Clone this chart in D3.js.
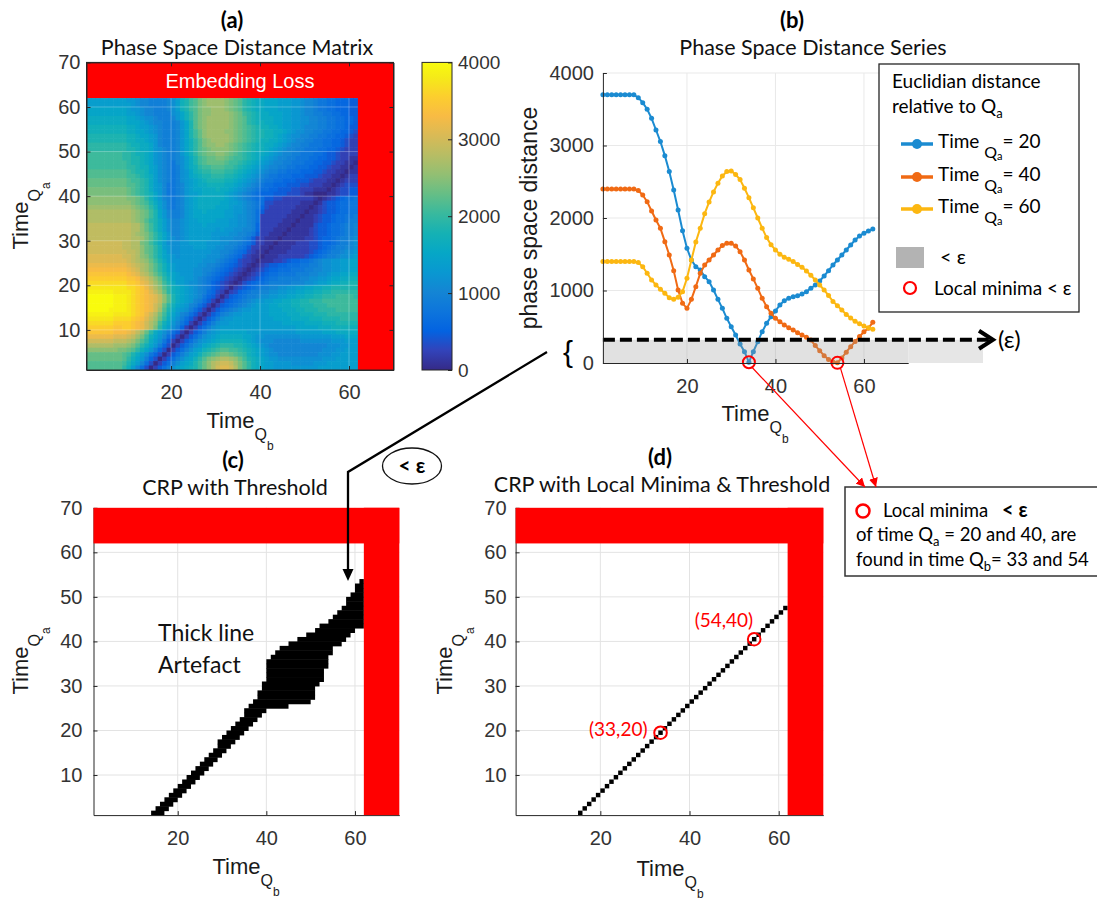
<!DOCTYPE html>
<html>
<head>
<meta charset="utf-8">
<title>Phase space distance and CRP</title>
<script src="https://cdn.jsdelivr.net/npm/d3@7"></script>
<style>
  body { margin: 0; background: #fff; }
  svg { display: block; }
</style>
</head>
<body>
<div id="fig"></div>
<script>
// (a) distance matrix, (b) three rows of it, (c) thresholded CRP, (d) local minima CRP

// ---------- data ----------
const timeQb = d3.range(1, 63)   // Q_b time index of the series in (b)

const distQa20 = [3700,3700,3700,3700,3700,3700,3700,3700,3660,3591,3499,3375,3214,3054,2860,2640,2386,2110,1825,1582,
  1421,1329,1283,1191,1122,1007,878,754,616,501,386,262,156,10,156,294,432,547,639,717,
  800,860,892,915,929,952,984,1030,1076,1131,1200,1274,1352,1421,1490,1559,1628,1697,1752,1790,1820,1848]
const distQa40 = [2400,2400,2400,2400,2400,2400,2400,2400,2380,2317,2225,2097,1972,1857,1674,1490,1274,1007,823,754,
  878,1053,1237,1352,1421,1490,1559,1619,1651,1651,1614,1536,1421,1283,1160,1030,892,777,685,616,
  570,524,487,455,418,386,354,317,240,170,100,50,15,2,70,150,225,295,365,430,480,561]
const distQa60 = [1400,1400,1400,1400,1400,1400,1400,1400,1385,1329,1237,1145,1076,1016,961,901,878,906,984,1168,
  1420,1670,1860,2060,2220,2360,2480,2580,2640,2650,2600,2530,2410,2280,2140,2000,1860,1730,1630,1560,
  1500,1460,1430,1400,1360,1320,1270,1210,1145,1076,1007,930,850,790,730,670,620,575,540,510,485,465]
const seriesNames = ["20", "40", "60"]
const seriesColors = ["#1b8bd1", "#f06a14", "#fcb711"]
const epsilon = 320
const minimaQb = [34, 54]
const minimaDist = [10, 2]

const distTicks = [0, 1000, 2000, 3000, 4000]
const timeTicksX = [20, 40, 60]
const timeTicksY = [10, 20, 30, 40, 50, 60, 70]
const validEnd = 62     // embedding loss starts here

// (a) matrix, one string per Q_a row from 61 (top) down to 1, one char per Q_b cell 1..61
// char is a base-36 level, level 35 = 4000
const heatRows = [
  "cccccccc cbba9988889a cfgijlmnnn nmlkjhgfee dddcccbba9 98776655544",
  "cccccccc ccba9988889a cfgijlmnnn nmlkjhgfee dddcccbba9 98776655544",
  "dddddddd dcbba998889a cfgijlmmnn nmlkjhgfee dddcccbba9 98776655544",
  "dddddddd dccba998888a bdfhjlmmnn nnmlkihgfe edddccbba9 98877665544",
  "eeeeeeee eddcbaa98889 bdfhjlmnnn nnmlkjhgfe eeddccbbaa 99887766554",
  "eeeeeeee edddcba99888 9bdgjlmnnn nnmlkjhgff eeddccbbaa 99887766554",
  "ffffffff feedccba9888 9bdgjlmnnn nnmlkjihgf feedccbba9 99887766544",
  "ffffffff feeddcba9888 9bdgikmnnn nmmlkjihgg ffeedcbaa9 98877665543",
  "gggggggg gffeddcb9888 9bdgikmnnn nnmlkjihgg ffedcbaa99 88776655432",
  "gggggggg gffeedcb9888 9bdfhjlmnn nnmlkjihgf feedcba998 87766554322",
  "hhhhhhhh hgffeedb9888 9bdfhjlmmn nmlkjihgff eedcba9988 77766554322",
  "hhhhhhhh hggfeedba988 9bdfhjklmm mmlkjihgff edcba99887 77665543222",
  "iiiiiiii hhgffedba988 9bdfhjkllm mlkjihgfee dcba998877 76654432222",
  "iiiiiiii hhggfedba988 9acegijkkl lkjiihgfed cba9988777 66554432211",
  "iiiiiiii ihggfedba987 9acegijkkk kjiihgfedc ba99887776 65544322110",
  "iiiiiiii ihhgffdca987 8acefhiijj jiihgfedcb a998877666 55443221101",
  "jjjjjjjj jihggfdca987 8abdfghhii ihhgfedcba 9887766655 54432211011",
  "jjjjjjjj jiihgfeca987 8abdefgghh hggfedcba9 8776665554 44322110122",
  "kkkkkkkk kjiihgeca987 8abcdefggg gffedcba98 7766555444 32221101222",
  "kkkkkkkk kjjihgecb977 89bcdeefff feedcba987 6655544433 22211012333",
  "llllllll lkjihgecb977 89bcddeeef eedcba9876 6554443322 21110123344",
  "llllllll lkjihgfdb977 89bccdeeee edcba98765 5544433321 10001123344",
  "mmmmmmmm mllkjhfdb987 89bcdeeeee edcba98766 4433222222 21012345667",
  "mmmmmmmm mmlkjigeca87 89bcdeeeee ddccba9876 3322222211 10134456677",
  "nnnnnnnn nnmlkjhfca87 89bcdeeeed ddcbba9875 3222222111 01234456677",
  "oooooooo oonmlkigdb98 89bcddeddd dccbba9864 2222221110 11234456677",
  "oooooooo oonmlkigdb98 89bcdddddd dccbaa9862 2222211101 12344566778",
  "oooooooo oonmljhgeca9 9abccddddc ccbbaa9862 2222111011 12344566788",
  "pppppppp ppoomkigeca9 9abcccdccc ccbbaa9852 2221110111 13445667889",
  "pppppppp ppoomkigeca9 9abccccccb cbbaa99852 2211101111 23445667889",
  "pppppppp pponmljhfdb9 9abcccccbb bbaa998742 2111011111 23445667889",
  "pppppppp ppoonljhfdba 9abcccccbb aaa9987422 1110111112 2345567889a",
  "qqqqqqqq ppoolkigecaa abbccccbbb aa99876422 1101111222 3345567889a",
  "qqqqqqqq ppoomkjhfcba abbbcccbba a998764221 1011112222 3345678899a",
  "qqqqqqqq qppomkjhfdba abbbbbbbaa 9987653211 0111122222 34567889aab",
  "rrrrrrrr qqpomljhfdcb abbbbbbaaa 9876532110 1112222223 4567889aabc",
  "rrrrrrrr rqponmkigecb bbbbbbaaa9 8765322101 1122345566 789aabbccdd",
  "ssssssss srqponljhfdc bbbbbaa998 7654321012 3445566677 889aabbccdd",
  "tttttttt tsrqonljhfdc bbbbaa9987 6543210123 4556667778 899aabbccdd",
  "uuuuuuuu utsrpomkiged cbbbaa9876 5432101234 5667777888 99aabccddee",
  "vvvvvvvv vuutrqomkhfd ccbba98765 4321012345 6778888899 aabbcddeeff",
  "wwwwwwww wvvusrpnlige ccbaa98754 3210134566 788888999a abccdeeffgg",
  "xxxxxxxx xwwvusqomjhf edcba98754 3202345678 899aabbccd deeffgggggg",
  "yyyyyyxx xxwvutrpnkhf edcba98653 2023567889 9aabbccdde effgghhhhhh",
  "zzzzzzyy yxwvutsrpmjg edcba97542 024567889a abbccddeef fgghhhiiiih",
  "zzzzzzyy yxwvutsrpmjg edcb986420 2456789abb ccddeeffgg hhhiiiiiiii",
  "zzzzzzyy yxwvutsqokhf dcb9864202 456789abcc cddeeeffgg ghhhiiiiiii",
  "zzzzzyyy yxwvutsqnjge cba8642024 6789abbccc cdddeeeffg gghhhhiiiii",
  "yyyyyyxx xxwvusqolifd b986420246 89abbccccc cddddeeeff fggghhhhhhh",
  "xxxxxxww wwvutrpnkhec a864202468 abbccccccc ccddddeeee fffgggghhhh",
  "wwwwwwvv vvutsqomifdb 975202468a bbcccccccc ccccddddde eeefffggggg",
  "vvvvvvuu vvutsqolheca 85202468ab cccccccccc cccccccddd ddeeeffffff",
  "uuuuuutt tsrpnkheca86 4202468abc ddddddcccb bbbbbbbccc cccdddeeeee",
  "ssssssrr rqpnlifdb964 202468abcd eeeeeddcbb aaaaaaaabb bbbbbcccddd",
  "qqqqqqpp ponljheca742 02468abcde fffffedcba aa999999aa aaaaabbbccc",
  "oooooonn nmljhfdb8530 2468abdefg hhhggfedcb a999999999 9999aaabbcc",
  "mmmmmmml lkjhfdb85302 468acdfghi jjiihgfedc ba99999999 999aaabbccc",
  "kkkkkkkk jigeca753024 68acdfhijk llkjihfedc baa9999999 99aaabbcccc",
  "kkkkkkkk jhfdb8530246 8acdfhjlmn oonmkigfed cbbaaaaaaa aaabbbccccc",
  "jjjjjjjj igec96302468 acdegikmop qqpnljhfed ccbbbbaaaa abbbccccccc",
  "jjjjjjjj hfc96302468a cdefgikmoq rrqoljhfed ccbbbbbbbb bbccccccccc"
]

// (c) cells below epsilon, per Q_a row 1..53: first Q_b cell and end (exclusive)
const threshLo = [14,15,16,17,18,19,20,21,22,23,24,25,26,27,28,29,29,30,31,32,33,34,35,35,36,37,38,38,39,39,
  40,40,40,40,40,41,42,43,45,47,49,51,52,54,55,56,57,58,58,59,60,60,61]
const threshHi = [17,18,19,20,21,22,23,24,25,26,27,28,29,30,31,32,33,34,35,36,37,38,39,40,45,50,51,51,51,52,
  53,53,53,54,54,54,55,55,57,58,59,60,62,62,62,62,62,62,62,62,62,62,62]

// (d) Q_b cell of the local minimum in each Q_a row 1..47
const minimaRowQb = [15,16,17,18,19,20,21,22,23,24,25,26,27,28,29,30,31,32,33,34,35,36,37,38,39,40,41,42,43,44,
  45,46,47,48,49,50,51,52,53,54,55,56,57,58,59,60,61]
const circledCells = [[33, 19], [54, 40]]
const circledLabels = ["(33,20)", "(54,40)"]

// parula colormap samples (index out of 63)
const parulaIdx = [0,4,8,12,16,20,24,28,32,36,40,44,48,52,56,60,63]
const parulaHex = ["#352a87","#3243ba","#0363e1","#0d75dc","#1485d4","#0998d1","#06a7c6","#15b1b4","#38b99e",
  "#65be86","#92bf73","#b7bd64","#d9ba56","#f8bb44","#fcce2e","#f5eb18","#f9fb0e"]

// ---------- setup ----------
const SANS = "'Liberation Sans', Arial, Helvetica, sans-serif"
const CAL = "Lato, 'Open Sans', sans-serif"
const INK = "#262626"

const svg = d3.select("#fig").append("svg").attr("width", 1097).attr("height", 900)
const defs = svg.append("defs")

let color = d3.scaleLinear()
  .domain(parulaIdx.map(i => i / 63 * 4000))
  .range(parulaHex)
  .clamp(true)
const plain = d3.format("d")

function styleAxis(g, size) {
  g.attr("font-family", SANS).attr("font-size", size || 20).attr("color", INK)
  g.selectAll("text").attr("fill", "#333")
}

function timeLabel(x, y, sub, rotated) {
  let t = svg.append("text")
    .attr("transform", rotated ? `translate(${x},${y}) rotate(-90)` : `translate(${x},${y})`)
    .attr("text-anchor", "middle").attr("font-family", SANS).attr("fill", "#1a1a1a")
  t.append("tspan").attr("font-size", 22).text("Time")
  t.append("tspan").attr("font-size", 16).attr("dy", 12).text("Q")
  t.append("tspan").attr("font-size", 12).attr("dy", 10).text(sub)
}

function title(x, y1, y2, tag, text) {
  svg.append("text").attr("x", x[0]).attr("y", y1).attr("text-anchor", "middle")
    .attr("font-family", CAL).attr("font-weight", "bold").attr("font-size", 22).text(tag)
  svg.append("text").attr("x", x[1]).attr("y", y2).attr("text-anchor", "middle")
    .attr("font-family", CAL).attr("font-size", 21.5).attr("fill", "#111").text(text)
}

function grid(g, xs, ys, stroke, opacity) {
  let [x0, x1] = xs.range(), [y0, y1] = ys.range()
  g.selectAll(".gx").data(timeTicksX).join("line")
    .attr("x1", d => xs(d)).attr("x2", d => xs(d)).attr("y1", y0).attr("y2", y1)
    .attr("stroke", stroke).attr("stroke-opacity", opacity)
  g.selectAll(".gy").data(timeTicksY.filter(d => d < 70)).join("line")
    .attr("x1", x0).attr("x2", x1).attr("y1", d => ys(d)).attr("y2", d => ys(d))
    .attr("stroke", stroke).attr("stroke-opacity", opacity)
}

function embeddingLoss(g, xs, ys) {
  g.append("rect").attr("x", xs(1)).attr("y", ys(70))
    .attr("width", xs(70) - xs(1)).attr("height", ys(validEnd) - ys(70)).attr("fill", "#ff0000")
  g.append("rect").attr("x", xs(validEnd)).attr("y", ys(70))
    .attr("width", xs(70) - xs(validEnd)).attr("height", ys(1) - ys(70)).attr("fill", "#ff0000")
}

function timeAxes(xs, ys, padX, padY) {
  svg.append("g").attr("transform", `translate(0,${ys(1)})`)
    .call(d3.axisBottom(xs).tickValues(timeTicksX).tickSize(-4).tickSizeOuter(0).tickPadding(padX))
    .call(styleAxis)
  svg.append("g").attr("transform", `translate(${xs(1)},0)`)
    .call(d3.axisLeft(ys).tickValues(timeTicksY).tickSize(-4).tickSizeOuter(0).tickPadding(padY))
    .call(styleAxis)
}

// ---------- (a) phase space distance matrix ----------
const xA = d3.scaleLinear().domain([1, 70]).range([86.5, 393.5])
const yA = d3.scaleLinear().domain([1, 70]).range([370, 62.4])

let cells = []
heatRows.forEach((row, i) => {
  let qa = 61 - i
  row.replace(/ /g, "").split("").forEach((ch, j) => {
    cells.push({qa: qa, qb: j + 1, v: parseInt(ch, 36) * 4000 / 35})
  })
})

let gA = svg.append("g")
gA.selectAll("rect.cell").data(cells).join("rect").attr("class", "cell")
  .attr("x", d => xA(d.qb)).attr("y", d => yA(d.qa + 1))
  .attr("width", xA(2) - xA(1) + 0.6).attr("height", yA(1) - yA(2) + 0.6)
  .attr("fill", d => color(d.v))
grid(gA, d3.scaleLinear().domain([1, 62]).range([xA(1), xA(62)]),
  d3.scaleLinear().domain([1, 62]).range([yA(1), yA(62)]), "#ffffff", 0.28)
embeddingLoss(gA, xA, yA)
gA.append("text").attr("x", (xA(1) + xA(70)) / 2).attr("y", 88).attr("text-anchor", "middle")
  .attr("font-family", SANS).attr("font-size", 20).attr("fill", "#fff").text("Embedding Loss")

timeAxes(xA, yA, 15, 6)
svg.append("g").attr("transform", `translate(0,${yA(70)})`)
  .call(d3.axisTop(xA).tickValues(timeTicksX).tickSize(-4).tickSizeOuter(0).tickFormat(""))
  .call(styleAxis)
svg.append("g").attr("transform", `translate(${xA(70)},0)`)
  .call(d3.axisRight(yA).tickValues(timeTicksY).tickSize(-4).tickSizeOuter(0).tickFormat(""))
  .call(styleAxis)
svg.append("rect").attr("x", xA(1)).attr("y", yA(70)).attr("width", xA(70) - xA(1))
  .attr("height", yA(1) - yA(70)).attr("fill", "none").attr("stroke", INK)

// colorbar
let grad = defs.append("linearGradient").attr("id", "parula")
  .attr("x1", 0).attr("y1", 1).attr("x2", 0).attr("y2", 0)
grad.selectAll("stop").data(parulaIdx).join("stop")
  .attr("offset", d => d / 63).attr("stop-color", (d, i) => parulaHex[i])
const yBar = d3.scaleLinear().domain([0, 4000]).range([370, 62.4])
svg.append("rect").attr("x", 422).attr("y", yBar(4000)).attr("width", 30)
  .attr("height", yBar(0) - yBar(4000)).attr("fill", "url(#parula)").attr("stroke", INK)
svg.append("g").attr("transform", "translate(452,0)")
  .call(d3.axisRight(yBar).tickValues(distTicks).tickFormat(plain).tickSize(-4).tickSizeOuter(0).tickPadding(6))
  .call(g => styleAxis(g, 19))
  .call(g => g.select(".domain").remove())

title([232, 237], 28, 55, "(a)", "Phase Space Distance Matrix")
timeLabel(240, 428, "b", false)
timeLabel(28, 216, "a", true)

// ---------- (b) phase space distance series ----------
const xB = d3.scaleLinear().domain([1, 70]).range([602.9, 908.2])
const yB = d3.scaleLinear().domain([0, 4000]).range([363, 73])

let gB = svg.append("g")
gB.selectAll(".gx").data(timeTicksX).join("line")
  .attr("x1", d => xB(d)).attr("x2", d => xB(d)).attr("y1", yB(0)).attr("y2", yB(4000))
  .attr("stroke", "#e9e9e9")
gB.selectAll(".gy").data(distTicks.slice(1)).join("line")
  .attr("x1", xB(1)).attr("x2", xB(70)).attr("y1", d => yB(d)).attr("y2", d => yB(d))
  .attr("stroke", "#e9e9e9")

const seriesData = [distQa20, distQa40, distQa60]
const line = d3.line().x(d => xB(d[0])).y(d => yB(d[1]))
seriesData.forEach((vals, k) => {
  let pts = timeQb.map((t, i) => [t, vals[i]])
  gB.append("path").datum(pts).attr("d", line).attr("fill", "none")
    .attr("stroke", seriesColors[k]).attr("stroke-width", 2)
  gB.selectAll(".dot" + k).data(pts).join("circle")
    .attr("cx", d => xB(d[0])).attr("cy", d => yB(d[1])).attr("r", 2.5)
    .attr("fill", seriesColors[k])
})

// region below epsilon, drawn over the lines
gB.append("rect").attr("x", xB(1)).attr("y", yB(epsilon)).attr("width", xB(70) - xB(1))
  .attr("height", yB(0) - yB(epsilon)).attr("fill", "#9a9a9a").attr("fill-opacity", 0.3)
gB.append("rect").attr("x", xB(70)).attr("y", yB(epsilon)).attr("width", 983 - xB(70))
  .attr("height", yB(0) - yB(epsilon)).attr("fill", "#e6e6e6")
gB.append("line").attr("x1", xB(1)).attr("x2", 990).attr("y1", yB(epsilon)).attr("y2", yB(epsilon))
  .attr("stroke", "#000").attr("stroke-width", 4).attr("stroke-dasharray", "12,5")
gB.append("path").attr("d", `M979,${yB(epsilon) - 9}L993,${yB(epsilon)}L979,${yB(epsilon) + 9}`)
  .attr("fill", "none").attr("stroke", "#000").attr("stroke-width", 4)
gB.append("text").attr("x", 998).attr("y", yB(epsilon) + 8).attr("font-family", CAL)
  .attr("font-size", 24).text("(ε)")

gB.selectAll(".minB").data(minimaQb).join("circle")
  .attr("cx", d => xB(d)).attr("cy", (d, i) => yB(minimaDist[i])).attr("r", 6)
  .attr("fill", "none").attr("stroke", "#ff0000").attr("stroke-width", 2)

svg.append("g").attr("transform", `translate(0,${yB(0)})`)
  .call(d3.axisBottom(xB).tickValues(timeTicksX).tickSize(-4).tickSizeOuter(0).tickPadding(16))
  .call(styleAxis)
svg.append("g").attr("transform", `translate(${xB(1)},0)`)
  .call(d3.axisLeft(yB).tickValues(distTicks).tickFormat(plain).tickSize(-4).tickSizeOuter(0).tickPadding(9))
  .call(styleAxis)

svg.append("text").attr("x", 568).attr("y", 362).attr("text-anchor", "middle")
  .attr("font-family", SANS).attr("font-size", 30).text("{")
svg.append("text").attr("transform", "translate(537,218) rotate(-90)").attr("text-anchor", "middle")
  .attr("font-family", SANS).attr("font-size", 23).attr("fill", "#1a1a1a").text("phase space distance")
title([792, 813], 28, 55, "(b)", "Phase Space Distance Series")
timeLabel(755, 421, "b", false)

// legend
let lg = svg.append("g")
lg.append("rect").attr("x", 879).attr("y", 64).attr("width", 200).attr("height", 248)
  .attr("fill", "#fff").attr("stroke", INK).attr("stroke-width", 1.3)
lg.append("text").attr("x", 892).attr("y", 88).attr("font-family", CAL).attr("font-size", 19)
  .text("Euclidian distance")
let rel = lg.append("text").attr("x", 892).attr("y", 113).attr("font-family", CAL).attr("font-size", 19)
rel.append("tspan").text("relative to Q")
rel.append("tspan").attr("font-size", 13).attr("dy", 5).text("a")
const legendY = [144, 177, 209]
seriesNames.forEach((name, k) => {
  let y = legendY[k]
  lg.append("line").attr("x1", 901).attr("x2", 933).attr("y1", y).attr("y2", y)
    .attr("stroke", seriesColors[k]).attr("stroke-width", 3.5)
  lg.append("circle").attr("cx", 917).attr("cy", y).attr("r", 5).attr("fill", seriesColors[k])
  let t = lg.append("text").attr("x", 938).attr("y", y + 4).attr("font-family", CAL).attr("font-size", 19)
  t.append("tspan").text("Time ")
  t.append("tspan").attr("font-size", 16).attr("dy", 10).text("Q")
  t.append("tspan").attr("font-size", 11).attr("dy", 2).text("a")
  t.append("tspan").attr("dy", -12).text("= " + name)
})
lg.append("rect").attr("x", 896).attr("y", 247).attr("width", 28).attr("height", 21).attr("fill", "#b3b3b3")
lg.append("text").attr("x", 940).attr("y", 264).attr("font-family", CAL).attr("font-size", 20).text("< ε")
lg.append("circle").attr("cx", 910).attr("cy", 288).attr("r", 6).attr("fill", "none")
  .attr("stroke", "#ff0000").attr("stroke-width", 2.2)
lg.append("text").attr("x", 934).attr("y", 295).attr("font-family", CAL).attr("font-size", 19)
  .text("Local minima < ε")

// ---------- (c) CRP with threshold ----------
const xC = d3.scaleLinear().domain([1, 70]).range([93.5, 399.3])
const yC = d3.scaleLinear().domain([1, 70]).range([815.1, 507.8])

let gC = svg.append("g")
grid(gC, xC, yC, "#e3e3e3", 1)
gC.selectAll("rect.blk").data(threshLo).join("rect").attr("class", "blk")
  .attr("x", d => xC(d)).attr("y", (d, i) => yC(i + 2))
  .attr("width", (d, i) => xC(threshHi[i]) - xC(d)).attr("height", yC(1) - yC(2) + 0.5)
  .attr("fill", "#000")
timeAxes(xC, yC, 16, 11)
embeddingLoss(svg.append("g"), xC, yC)
svg.append("text").attr("font-family", CAL).attr("font-size", 23).attr("fill", "#111")
  .selectAll("tspan").data(["Thick line", "Artefact"]).join("tspan")
  .attr("x", 158).attr("y", (d, i) => 641 + i * 32).text(d => d)
title([233, 235], 468, 495, "(c)", "CRP with Threshold")
timeLabel(246, 874, "b", false)
timeLabel(28, 661, "a", true)

// ---------- (d) CRP with local minima & threshold ----------
const xD = d3.scaleLinear().domain([1, 70]).range([515.6, 823.3])
const yD = yC
const labelShift = [[-13, 3], [-1, -12]]

let gD = svg.append("g")
grid(gD, xD, yD, "#e3e3e3", 1)
gD.selectAll("rect.blk").data(minimaRowQb).join("rect").attr("class", "blk")
  .attr("x", d => xD(d)).attr("y", (d, i) => yD(i + 2))
  .attr("width", xD(2) - xD(1)).attr("height", yD(1) - yD(2)).attr("fill", "#000")
gD.selectAll("circle").data(circledCells).join("circle")
  .attr("cx", d => xD(d[0] + 0.5)).attr("cy", d => yD(d[1] + 0.5)).attr("r", 6.3)
  .attr("fill", "none").attr("stroke", "#ff0000").attr("stroke-width", 2)
gD.selectAll("text").data(circledCells).join("text")
  .attr("x", (d, i) => xD(d[0] + 0.5) + labelShift[i][0])
  .attr("y", (d, i) => yD(d[1] + 0.5) + labelShift[i][1]).attr("text-anchor", "end")
  .attr("font-family", CAL).attr("font-size", 19).attr("fill", "#ff0000")
  .text((d, i) => circledLabels[i])
timeAxes(xD, yD, 16, 9)
embeddingLoss(svg.append("g"), xD, yD)
title([660, 662], 465, 492, "(d)", "CRP with Local Minima & Threshold")
timeLabel(670, 876, "b", false)
timeLabel(452, 661, "a", true)

// ---------- connectors ----------
defs.append("marker").attr("id", "redHead").attr("viewBox", "0 0 10 10").attr("refX", 10).attr("refY", 5)
  .attr("markerWidth", 9).attr("markerHeight", 9).attr("markerUnits", "userSpaceOnUse")
  .attr("orient", "auto").append("path").attr("d", "M0,0L10,5L0,10Z").attr("fill", "#ff0000")

svg.append("path").attr("d", "M547,352L348,472L348,571").attr("fill", "none")
  .attr("stroke", "#000").attr("stroke-width", 2.3)
svg.append("path").attr("d", "M342.5,569L353.5,569L348,581Z").attr("fill", "#000")
svg.append("ellipse").attr("cx", 412).attr("cy", 466).attr("rx", 29.5).attr("ry", 18)
  .attr("fill", "#fff").attr("stroke", "#111").attr("stroke-width", 1.3)
svg.append("text").attr("x", 412).attr("y", 473).attr("text-anchor", "middle")
  .attr("font-family", CAL).attr("font-weight", "bold").attr("font-size", 21).text("< ε")

// annotation box
let box = svg.append("g")
box.append("rect").attr("x", 845).attr("y", 487).attr("width", 262).attr("height", 89)
  .attr("fill", "#fff").attr("stroke", "#333").attr("stroke-width", 1.5)
box.append("circle").attr("cx", 863).attr("cy", 511).attr("r", 6.5).attr("fill", "none")
  .attr("stroke", "#ff0000").attr("stroke-width", 2.5)
let l1 = box.append("text").attr("x", 883).attr("y", 517).attr("font-family", CAL).attr("font-size", 18.5)
l1.append("tspan").text("Local minima")
l1.append("tspan").attr("x", 1002).attr("font-weight", "bold").attr("font-size", 20).text("< ε")
let l2 = box.append("text").attr("x", 856).attr("y", 541).attr("font-family", CAL).attr("font-size", 18.5)
l2.append("tspan").text("of time Q")
l2.append("tspan").attr("font-size", 13).attr("dy", 5).text("a")
l2.append("tspan").attr("dy", -5).text(" = 20 and 40, are")
let l3 = box.append("text").attr("x", 856).attr("y", 566).attr("font-family", CAL).attr("font-size", 18.5)
l3.append("tspan").text("found in time Q")
l3.append("tspan").attr("font-size", 13).attr("dy", 5).text("b")
l3.append("tspan").attr("dy", -5).text("= 33 and 54")

const arrowEnds = [865, 876]
svg.selectAll(".redArrow").data(minimaQb).join("line")
  .attr("x1", d => xB(d) + 3).attr("y1", (d, i) => yB(minimaDist[i]) + 5)
  .attr("x2", (d, i) => arrowEnds[i]).attr("y2", 487)
  .attr("stroke", "#ff0000").attr("stroke-width", 1.2).attr("marker-end", "url(#redHead)")

heatRows.forEach((r, i) => { if (r.replace(/ /g, "").length != 61) console.log("row length", i, r.length) })
</script>
</body>
</html>
